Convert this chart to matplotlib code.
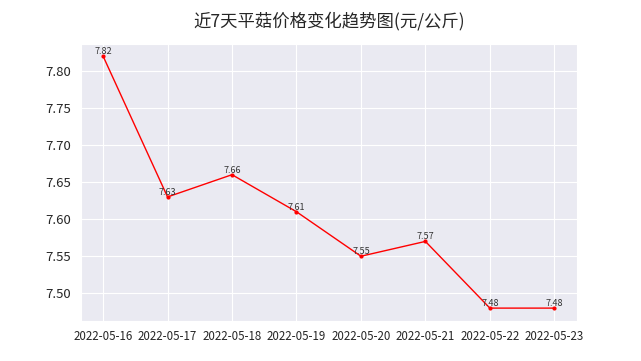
import matplotlib
matplotlib.use('Agg')
import matplotlib.pyplot as plt
import seaborn as sns

dates = ['2022-05-16', '2022-05-17', '2022-05-18', '2022-05-19',
         '2022-05-20', '2022-05-21', '2022-05-22', '2022-05-23']
prices = [7.82, 7.63, 7.66, 7.61, 7.55, 7.57, 7.48, 7.48]
yticks = [7.50, 7.55, 7.60, 7.65, 7.70, 7.75, 7.80]

sns.set_style('darkgrid', {'grid.linewidth': 0.8})
plt.rcParams['font.family'] = ['Noto Sans CJK SC', 'DejaVu Sans']
plt.rcParams['axes.unicode_minus'] = False

fig, ax = plt.subplots(figsize=(6.41, 3.61), dpi=100)
ax.plot(dates, prices, color='red', linewidth=1, marker='o', markersize=2)
for d, p in zip(dates, prices):
    ax.text(d, p, f'{p:.2f}', ha='center', va='bottom', fontsize=6.5, color='#333333')

ax.set_title('近7天平菇价格变化趋势图(元/公斤)', fontsize=12.5, pad=12)
ax.tick_params(axis='x', labelsize=8.3)
ax.tick_params(axis='y', labelsize=9.5)
ax.set_yticks(yticks)
ax.set_yticklabels([f'{v:.2f}' for v in yticks])
plt.subplots_adjust(left=0.1256, right=0.900, top=0.8795, bottom=0.1116)
plt.savefig('out.png')
